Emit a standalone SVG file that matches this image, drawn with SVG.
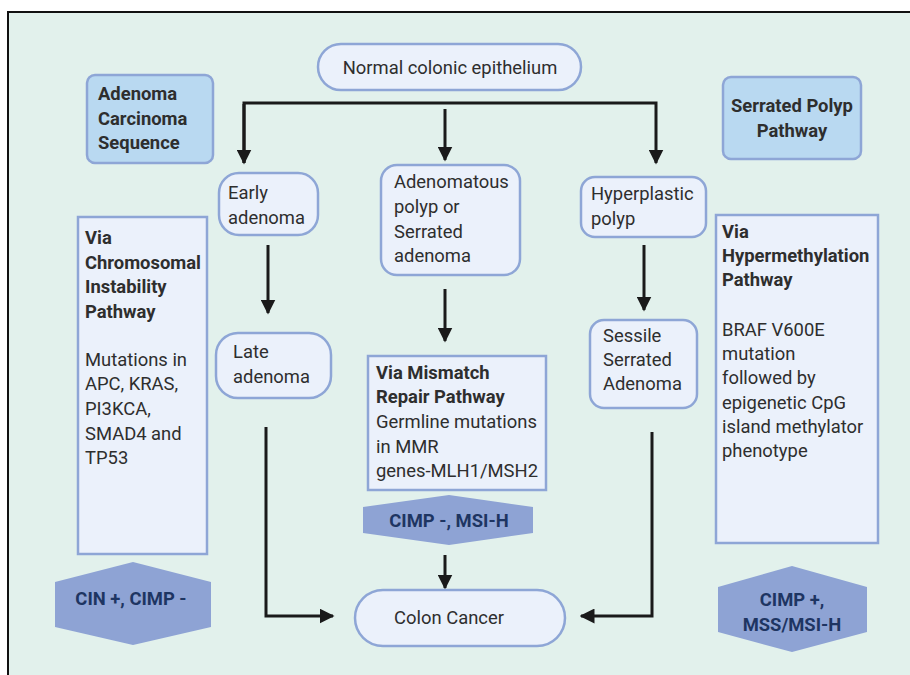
<svg xmlns="http://www.w3.org/2000/svg" width="910" height="675" viewBox="0 0 910 675">
<defs>
<style>
.bg{fill:#e2f1ec}
.node{fill:#ebf1fb;stroke:#8ea6d6;stroke-width:2.5}
.head{fill:#b9d9f1;stroke:#8ea6d6;stroke-width:2.5}
.hex{fill:#8ea3d4}
.t{font-family:Roboto,"Liberation Sans",sans-serif;font-size:18.4px;fill:#2e2e2e}
.b{font-weight:bold}
.h{font-family:Roboto,"Liberation Sans",sans-serif;font-size:18.4px;font-weight:bold;fill:#1e3562}
.ln{fill:none;stroke:#1a1a1a;stroke-width:3}
</style>
<marker id="ah" viewBox="0 0 10 10" refX="9" refY="5" markerWidth="5" markerHeight="5" orient="auto" markerUnits="strokeWidth">
<path d="M0,0 L10,5 L0,10 z" fill="#1a1a1a"/>
</marker>
</defs>
<rect class="bg" x="8" y="12" width="902" height="663"/>
<path d="M8,675 V12 H910" fill="none" stroke="#111" stroke-width="2"/>

<g id="connectors">
<path class="ln" d="M244,163 V103 H656 V163" marker-end="url(#ah)"/>
<path class="ln" d="M244,104 V163" marker-end="url(#ah)"/>
<path class="ln" d="M445,109 V160" marker-end="url(#ah)"/>
<path class="ln" d="M268,245 V313" marker-end="url(#ah)"/>
<path class="ln" d="M445,289 V341" marker-end="url(#ah)"/>
<path class="ln" d="M644,245 V310" marker-end="url(#ah)"/>
<path class="ln" d="M445,555 V588" marker-end="url(#ah)"/>
<path class="ln" d="M266,427 V616 H333" marker-end="url(#ah)"/>
<path class="ln" d="M652,432 V616 H581" marker-end="url(#ah)"/>
</g>

<g id="normal">
<rect class="node" x="318" y="44" width="263" height="46" rx="23"/>
<text class="t" x="450" y="73.5" text-anchor="middle">Normal colonic epithelium</text>
</g>

<g id="acs">
<rect class="head" x="87" y="75" width="126" height="88" rx="8"/>
<text class="t b" x="98" y="100">Adenoma</text>
<text class="t b" x="98" y="125">Carcinoma</text>
<text class="t b" x="98" y="149">Sequence</text>
</g>

<g id="spp">
<rect class="head" x="723" y="77" width="138" height="82" rx="8"/>
<text class="t b" x="792" y="112" text-anchor="middle">Serrated Polyp</text>
<text class="t b" x="792" y="137" text-anchor="middle">Pathway</text>
</g>

<g id="early">
<rect class="node" x="219" y="173" width="99" height="62" rx="20"/>
<text class="t" x="228" y="199">Early</text>
<text class="t" x="228" y="224">adenoma</text>
</g>

<g id="adenomatous">
<rect class="node" x="381" y="165" width="139" height="110" rx="16"/>
<text class="t" x="394" y="188">Adenomatous</text>
<text class="t" x="394" y="213">polyp or</text>
<text class="t" x="394" y="238">Serrated</text>
<text class="t" x="394" y="262">adenoma</text>
</g>

<g id="hyperplastic">
<rect class="node" x="581" y="177" width="125" height="60" rx="14"/>
<text class="t" x="591" y="200">Hyperplastic</text>
<text class="t" x="591" y="225">polyp</text>
</g>

<g id="late">
<rect class="node" x="216" y="333" width="115" height="65" rx="22"/>
<text class="t" x="233" y="358">Late</text>
<text class="t" x="233" y="383">adenoma</text>
</g>

<g id="sessile">
<rect class="node" x="590" y="320" width="107" height="88" rx="14"/>
<text class="t" x="603" y="342">Sessile</text>
<text class="t" x="603" y="366">Serrated</text>
<text class="t" x="603" y="390">Adenoma</text>
</g>

<g id="cin-box">
<rect class="node" x="78" y="217" width="129" height="337"/>
<text class="t b" x="85" y="244">Via</text>
<text class="t b" x="85" y="269">Chromosomal</text>
<text class="t b" x="85" y="293">Instability</text>
<text class="t b" x="85" y="318">Pathway</text>
<text class="t" x="85" y="366">Mutations in</text>
<text class="t" x="85" y="390">APC, KRAS,</text>
<text class="t" x="85" y="415">PI3KCA,</text>
<text class="t" x="85" y="440">SMAD4 and</text>
<text class="t" x="85" y="464">TP53</text>
</g>

<g id="mmr-box">
<rect class="node" x="368" y="356" width="178" height="134"/>
<text class="t b" x="376" y="379">Via Mismatch</text>
<text class="t b" x="376" y="403">Repair Pathway</text>
<text class="t" x="376" y="428">Germline mutations</text>
<text class="t" x="376" y="453">in MMR</text>
<text class="t" x="376" y="477">genes-MLH1/MSH2</text>
</g>

<g id="hyper-box">
<rect class="node" x="716" y="215" width="162" height="328"/>
<text class="t b" x="722" y="238">Via</text>
<text class="t b" x="722" y="262">Hypermethylation</text>
<text class="t b" x="722" y="286">Pathway</text>
<text class="t" x="722" y="336">BRAF V600E</text>
<text class="t" x="722" y="360">mutation</text>
<text class="t" x="722" y="384">followed by</text>
<text class="t" x="722" y="409">epigenetic CpG</text>
<text class="t" x="722" y="433">island methylator</text>
<text class="t" x="722" y="457">phenotype</text>
</g>

<g id="cin-hex">
<polygon class="hex" points="55,582 133,562 211,582 211,627 133,645 55,627"/>
<text class="h" x="131" y="605" text-anchor="middle">CIN +, CIMP -</text>
</g>

<g id="mmr-hex">
<polygon class="hex" points="363,507 449,495 533,507 533,533 449,545 363,533"/>
<text class="h" x="449" y="527" text-anchor="middle">CIMP -, MSI-H</text>
</g>

<g id="hyper-hex">
<polygon class="hex" points="718,587 792,566 867,587 867,632 792,652 718,632"/>
<text class="h" x="792" y="606" text-anchor="middle">CIMP +,</text>
<text class="h" x="792" y="631" text-anchor="middle">MSS/MSI-H</text>
</g>

<g id="cancer">
<rect class="node" x="355" y="590" width="210" height="56" rx="28"/>
<text class="t" x="449" y="624" text-anchor="middle">Colon Cancer</text>
</g>
</svg>
